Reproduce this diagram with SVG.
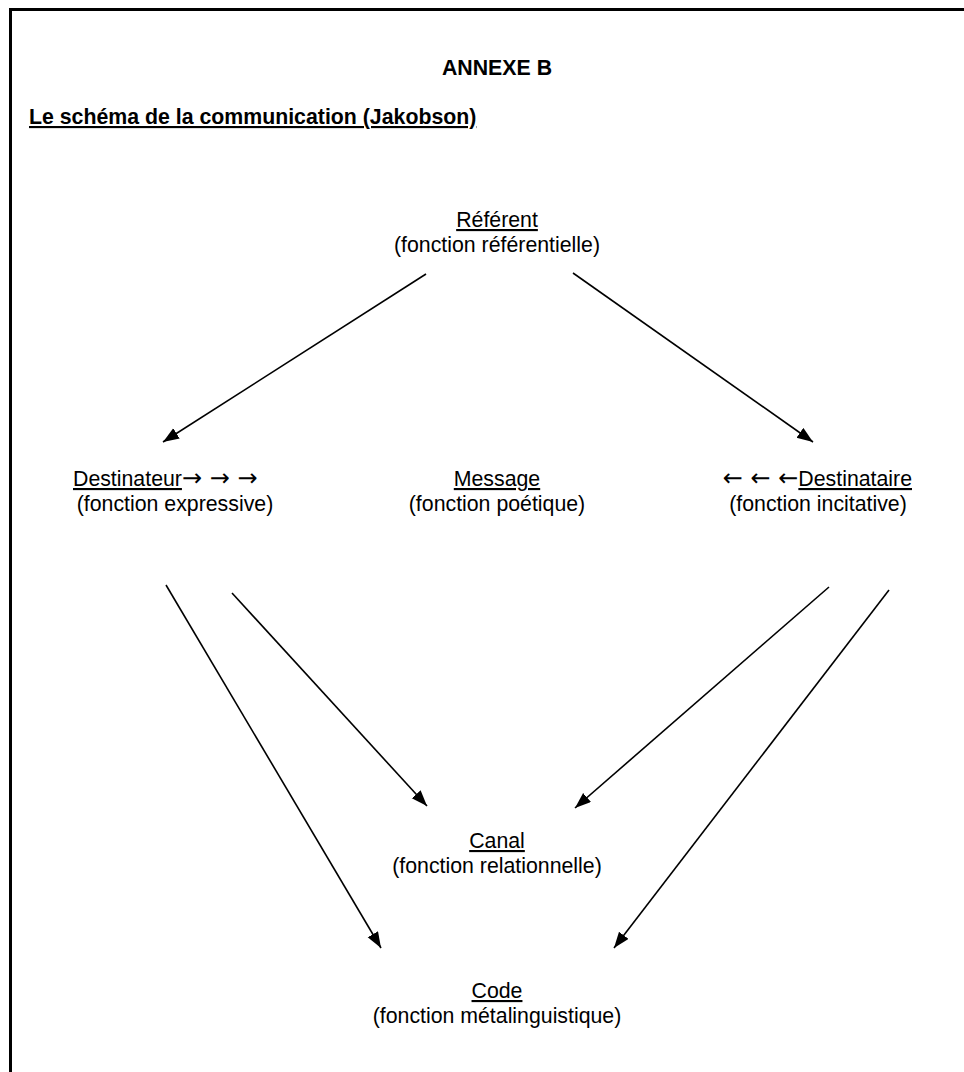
<svg xmlns="http://www.w3.org/2000/svg" width="964" height="1072" viewBox="0 0 964 1072">
<style>
text{font-family:"Liberation Sans",Arial,sans-serif;font-size:21.3px;fill:#000}
.c{text-anchor:middle}
.b{font-weight:bold}
.u{text-decoration:underline}
.ar{font-family:"DejaVu Sans",sans-serif;font-size:24px}
.conn line{stroke:#000;stroke-width:1.6;marker-end:url(#ah)}
</style>
<defs>
<marker id="ah" markerUnits="userSpaceOnUse" markerWidth="18" markerHeight="14" refX="16" refY="6" orient="auto">
<path d="M0,0 L16,6 L0,12 z" fill="#000"/>
</marker>
</defs>
<rect width="964" height="1072" fill="#fff"/>
<path d="M10.5,1072 V9.5 H964" fill="none" stroke="#000" stroke-width="3"/>
<g id="header">
<text class="c b" x="497" y="75">ANNEXE B</text>
<text class="b u" x="29" y="124">Le schéma de la communication (Jakobson)</text>
</g>
<g id="referent">
<text class="c" x="497" y="227"><tspan class="u">Référent</tspan></text>
<text class="c" x="497" y="252">(fonction référentielle)</text>
</g>
<g id="destinateur">
<text x="73" y="486"><tspan class="u">Destinateur</tspan><tspan class="ar">→ → →</tspan></text>
<text class="c" x="175" y="511">(fonction expressive)</text>
</g>
<g id="message">
<text class="c" x="497" y="486"><tspan class="u">Message</tspan></text>
<text class="c" x="497" y="511">(fonction poétique)</text>
</g>
<g id="destinataire">
<text x="912" y="486" style="text-anchor:end"><tspan class="ar">← ← ←</tspan><tspan class="u">Destinataire</tspan></text>
<text class="c" x="818" y="511">(fonction incitative)</text>
</g>
<g id="canal">
<text class="c" x="497" y="848"><tspan class="u">Canal</tspan></text>
<text class="c" x="497" y="873">(fonction relationnelle)</text>
</g>
<g id="code">
<text class="c" x="497" y="998"><tspan class="u">Code</tspan></text>
<text class="c" x="497" y="1023">(fonction métalinguistique)</text>
</g>
<g id="connectors" class="conn">
<line x1="426" y1="274" x2="163" y2="442"/>
<line x1="573" y1="273" x2="813" y2="442"/>
<line x1="166" y1="585" x2="381" y2="948"/>
<line x1="232" y1="593" x2="427" y2="806"/>
<line x1="829" y1="587" x2="575" y2="808"/>
<line x1="889" y1="590" x2="614" y2="948"/>
</g>
</svg>
